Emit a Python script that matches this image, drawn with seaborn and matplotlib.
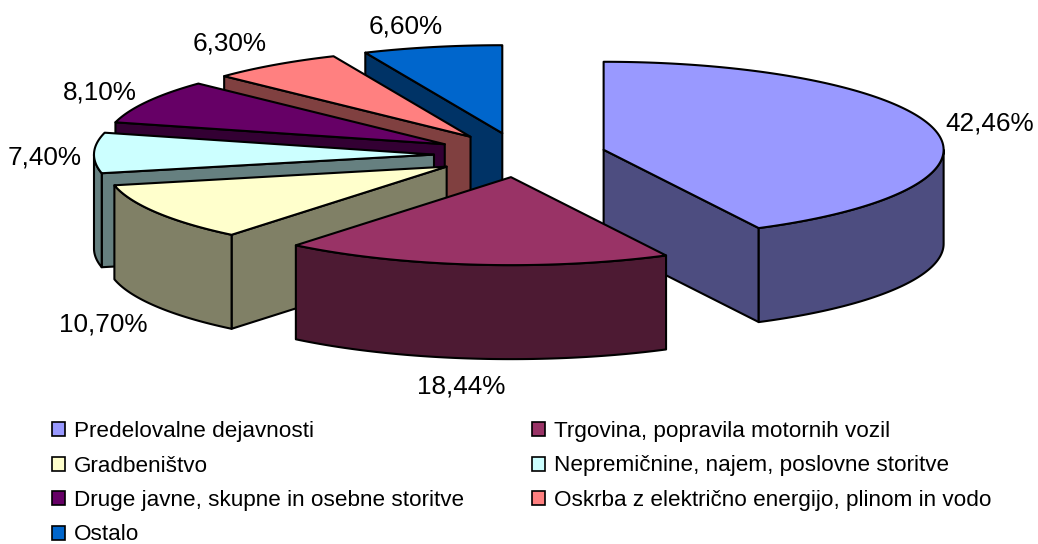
import numpy as np
import matplotlib
matplotlib.use("Agg")
import matplotlib.pyplot as plt
from matplotlib.patches import Polygon, Patch
import seaborn as sns

categories = ["Predelovalne dejavnosti", "Trgovina, popravila motornih vozil", "Gradbeništvo",
              "Nepremičnine, najem, poslovne storitve", "Druge javne, skupne in osebne storitve",
              "Oskrba z električno energijo, plinom in vodo", "Ostalo"]
values = [42.46, 18.44, 10.70, 7.40, 8.10, 6.30, 6.60]
top_colors = ["#9999FF", "#993366", "#FFFFCC", "#CCFFFF", "#660066", "#FF8080", "#0066CC"]
label_positions = [(990, 123.5), (461, 386.5), (103, 324.5), (45, 157.5), (100, 92.5), (230, 43.5), (406, 26.5)]
paint_order = [0, 6, 5, 4, 3, 2, 1]

CX, CY, RX, RY, DEPTH, EXPLODE = 520, 155, 340, 88, 94, 0.253

sns.set_theme(style="white")
plt.rcParams["font.family"] = ["Liberation Sans", "DejaVu Sans"]
palette = sns.color_palette(top_colors)
side_colors = [tuple(c * 0.5 for c in col) for col in palette]

fig = plt.figure(figsize=(10.38, 5.44), dpi=100)
ax = fig.add_axes([0, 0, 1, 1])
ax.set_xlim(0, 1038)
ax.set_ylim(544, 0)
ax.axis("off")


def rim(ang, ax0, ay0):
    return np.column_stack([ax0 + RX * np.sin(ang), ay0 - RY * np.cos(ang)])


edges = np.radians(np.concatenate([[0], np.cumsum(values)]) * 360 / sum(values))
LW = 1.5
for i in paint_order:
    a0, a1 = edges[i], edges[i + 1]
    mid = (a0 + a1) / 2
    ax0 = CX + EXPLODE * RX * np.sin(mid)
    ay0 = CY - EXPLODE * RY * np.cos(mid)
    apex = np.array([[ax0, ay0]])
    shift = np.array([0, DEPTH])
    kw = dict(edgecolor="black", linewidth=LW, joinstyle="round")
    # radial wall: only the one that faces the viewer
    for a, visible in ((a0, np.sin(a0) < -1e-9), (a1, np.sin(a1) > 1e-9)):
        if visible:
            p = rim(np.array([a]), ax0, ay0)
            ax.add_patch(Polygon(np.vstack([apex, p, p + shift, apex + shift]), facecolor=side_colors[i], **kw))
    # outer wall (front half only)
    lo, hi = max(a0, np.pi / 2), min(a1, 3 * np.pi / 2)
    if hi > lo:
        arc = rim(np.linspace(lo, hi, 80), ax0, ay0)
        ax.add_patch(Polygon(np.vstack([arc, (arc + shift)[::-1]]), facecolor=side_colors[i], **kw))
    # top
    arc = rim(np.linspace(a0, a1, 160), ax0, ay0)
    ax.add_patch(Polygon(np.vstack([apex, arc]), facecolor=palette[i], **kw))

for v, (x, y) in zip(values, label_positions):
    ax.text(x, y, f"{v:.2f}".replace(".", ",") + "%", ha="center", va="center", fontsize=18.8, color="black")

order = [0, 2, 4, 6, 1, 3, 5]
handles = [Patch(facecolor=palette[k], edgecolor="black", linewidth=1.2, label=categories[k]) for k in order]
ax.legend(handles=handles, ncol=2, loc="upper left", bbox_to_anchor=(52, 421), bbox_transform=ax.transData,
          frameon=False, fontsize=16.2, handlelength=0.58, handleheight=0.58, handletextpad=0.4,
          columnspacing=3.0, labelspacing=0.6, borderpad=0, borderaxespad=0, labelcolor="black")

fig.savefig("out.png", dpi=100)
